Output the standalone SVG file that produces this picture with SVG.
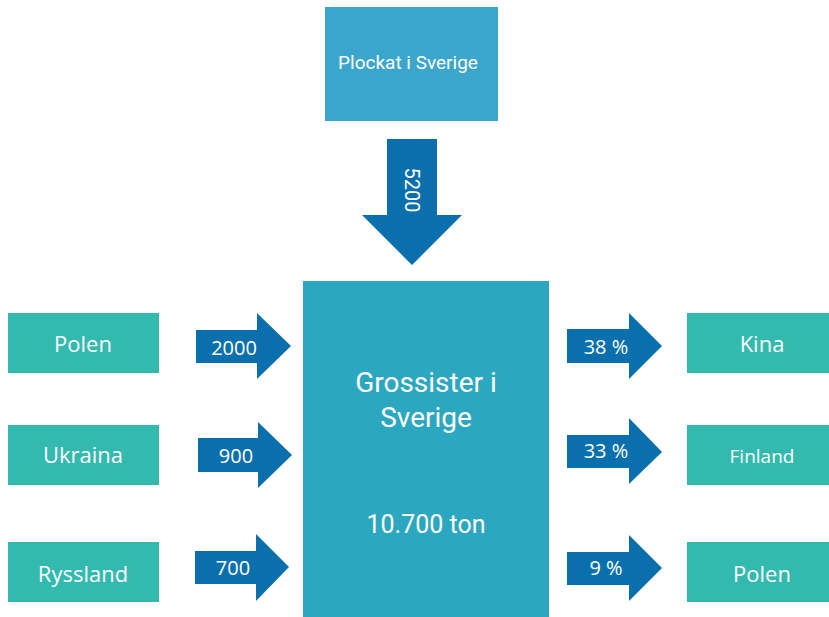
<svg xmlns="http://www.w3.org/2000/svg" width="829" height="617" viewBox="0 0 829 617">
  <style>
    .src { fill: #33BAAE; }
    .flow { fill: #0A70AD; }
    .lbl { fill: #FFFFFF; font-family: "Open Sans", "Noto Sans", sans-serif; text-anchor: middle; }
    .din { fill: #FFFFFF; font-family: Roboto, "Liberation Sans", sans-serif; text-anchor: middle; }
  </style>
  <rect width="829" height="617" fill="#FFFFFF"/>

  <g id="plockat">
    <rect x="325" y="7" width="173" height="114" fill="#3BA6CC"/>
    <text class="din" x="408" y="69" font-size="19">Plockat i Sverige</text>
  </g>

  <g id="grossister">
    <rect x="303" y="281" width="246" height="336" fill="#2CA7C0"/>
    <text class="din" x="426" y="392" font-size="28">Grossister i</text>
    <text class="din" x="426" y="427" font-size="28">Sverige</text>
    <text class="din" x="426" y="533" font-size="25">10.700 ton</text>
  </g>

  <g id="in-polen">
    <rect class="src" x="8" y="313" width="151" height="60"/>
    <text class="lbl" x="83" y="352" font-size="22">Polen</text>
  </g>
  <g id="in-ukraina">
    <rect class="src" x="8" y="425" width="151" height="60"/>
    <text class="lbl" x="83" y="463" font-size="22">Ukraina</text>
  </g>
  <g id="in-ryssland">
    <rect class="src" x="8" y="542" width="151" height="60"/>
    <text class="lbl" x="83" y="582" font-size="22">Ryssland</text>
  </g>

  <g id="out-kina">
    <rect class="src" x="687" y="313" width="142" height="60"/>
    <text class="lbl" x="762" y="352" font-size="22">Kina</text>
  </g>
  <g id="out-finland">
    <rect class="src" x="687" y="425" width="142" height="60"/>
    <text class="lbl" x="762" y="463" font-size="19">Finland</text>
  </g>
  <g id="out-polen">
    <rect class="src" x="687" y="542" width="142" height="60"/>
    <text class="lbl" x="762" y="582" font-size="22">Polen</text>
  </g>

  <g id="connectors">
    <!-- supply from domestic picking -->
    <polygon class="flow" points="387,139 437,139 437,215 462,215 412,265 362,215 387,215"/>
    <text class="din" transform="translate(412,190) rotate(90)" y="7" font-size="20">5200</text>

    <!-- imports -->
    <polygon class="flow" points="196,330 257,330 257,313 291,346 257,379 257,363 196,363"/>
    <text class="lbl" x="234" y="355" font-size="20">2000</text>
    <polygon class="flow" points="198,438 258,438 258,422 292,455 258,488 258,472 198,472"/>
    <text class="lbl" x="236" y="463" font-size="20">900</text>
    <polygon class="flow" points="195,551 256,551 256,534 289,567 256,601 256,584 195,584"/>
    <text class="lbl" x="233" y="575" font-size="20">700</text>

    <!-- exports -->
    <polygon class="flow" points="567,329 629,329 629,313 662,346 629,379 629,363 567,363"/>
    <text class="lbl" x="606" y="354" font-size="20">38 %</text>
    <polygon class="flow" points="567,435 629,435 629,418 662,452 629,484 629,468 567,468"/>
    <text class="lbl" x="606" y="458" font-size="20">33 %</text>
    <polygon class="flow" points="567,552 629,552 629,535 662,568 629,601 629,585 567,585"/>
    <text class="lbl" x="606" y="575" font-size="20">9 %</text>
  </g>
</svg>
